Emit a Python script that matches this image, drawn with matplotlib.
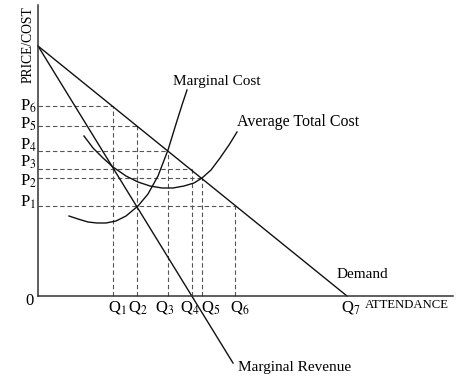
import matplotlib
matplotlib.use("Agg")
import matplotlib.pyplot as plt

# values (arbitrary units)
prices = [90, 118, 127, 145, 170, 190]            # P1..P6
quantities = [75, 99, 130, 154, 164, 197, 309]    # Q1..Q7
p_labels = ["P$_{%d}$" % (i + 1) for i in range(len(prices))]
q_labels = ["Q$_{%d}$" % (i + 1) for i in range(len(quantities))]

demand_q = [0, 309]
demand_p = [250, 0]
mr_q = [0, 195]
mr_p = [250, -67]

mc_q = [31, 40, 50, 59, 68, 78, 88, 100, 110, 120, 130, 138, 144, 149]
mc_p = [80, 77, 74, 73, 73, 75, 80, 90, 102, 120, 146, 172, 191, 206]

atc_q = [46, 55, 65, 75, 88, 100, 112, 124, 135, 146, 156, 164, 173, 182, 191, 199]
atc_p = [160, 148, 138, 129, 120, 114, 110, 108, 108, 110, 113, 118, 126, 138, 151, 164]

# dashed guides: (price index, quantity index)
guides = [(5, 0), (4, 1), (3, 2), (2, 3), (1, 4), (0, 5)]

# label nudges so crowded labels sit like the original
p_label_dy = [-1, -8, 2, 1, -3, -5]
q_label_dx = [-5, -9, -13, -12, -1, -5, -6]

plt.rcParams['font.family'] = ['Liberation Serif', 'DejaVu Serif']
plt.rcParams['mathtext.fontset'] = 'stix'

fig = plt.figure(figsize=(4.64, 3.82), dpi=100)
ax = fig.add_axes([0, 0, 1, 1])
ax.set_xlim(-38, 426)
ax.set_ylim(-86, 296)

for s in ['top', 'right']:
    ax.spines[s].set_visible(False)
for s in ['left', 'bottom']:
    ax.spines[s].set_position(('data', 0))
    ax.spines[s].set_linewidth(1.1)
    ax.spines[s].set_color('#333333')
ax.spines['left'].set_bounds(0, 291)
ax.spines['bottom'].set_bounds(0, 415)
ax.set_xticks([])
ax.set_yticks([])

for i, p in enumerate(prices):
    ax.text(-18, p + p_label_dy[i], p_labels[i], fontsize=12, ha='left', va='baseline')
for i, q in enumerate(quantities):
    ax.text(q + q_label_dx[i], -16, q_labels[i], fontsize=12, ha='left', va='baseline')

for pi, qi in guides:
    p = prices[pi]
    q = quantities[qi]
    ax.plot([0, q], [p, p], ls=(0, (4, 2.5)), color='#555555', lw=0.8)
    ax.plot([q, q], [0, p], ls=(0, (4, 2.5)), color='#555555', lw=0.8)

ax.plot(demand_q, demand_p, color='#111111', lw=1.0)
ax.plot(mr_q, mr_p, color='#111111', lw=1.0)
ax.plot(mc_q, mc_p, color='#111111', lw=1.0)
ax.plot(atc_q, atc_p, color='#111111', lw=1.0)

ax.text(135, 215, "Marginal Cost", fontsize=11, ha='left', va='center')
ax.text(199, 174, "Average Total Cost", fontsize=11.5, ha='left', va='center')
ax.text(299, 21, "Demand", fontsize=11, ha='left', va='center')
ax.text(200, -72, "Marginal Revenue", fontsize=11, ha='left', va='center')
ax.text(327, -9, "ATTENDANCE", fontsize=9.2, ha='left', va='center')
ax.text(-10, 251, "PRICE/COST", fontsize=9.8, rotation=90, ha='center', va='center')
ax.text(-13, -9, "0", fontsize=12, ha='left', va='baseline')

fig.savefig("out.png", dpi=100)
